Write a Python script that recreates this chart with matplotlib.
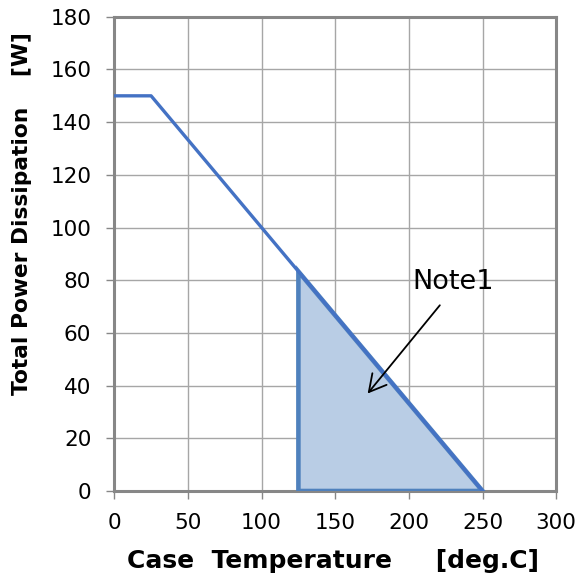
import matplotlib
matplotlib.use("Agg")
import matplotlib.pyplot as plt

# derating curve (case temperature vs total power dissipation)
temp = [0, 25, 250]
power = [150, 150, 0]

# shaded note region
region_x = [125, 125, 250, 125]
region_y = [0, 83.3, 0, 0]

xticks = [0, 50, 100, 150, 200, 250, 300]
yticks = [0, 20, 40, 60, 80, 100, 120, 140, 160, 180]

note_text = "Note1"
note_text_xy = (230, 79.5)
arrow_start = (221, 70.5)
arrow_tip = (172, 37)

plt.rcParams['font.family'] = ['DejaVu Sans']

fig = plt.figure(figsize=(5.8, 5.79), dpi=100)
ax = fig.add_axes([0.197, 0.152, 0.762, 0.819])

ax.fill(region_x, region_y, facecolor='#B9CDE5', edgecolor='#4F81BD', linewidth=3.3, zorder=3)
ax.plot(temp, power, color='#4472C4', linewidth=2.4, zorder=4)

ax.text(note_text_xy[0], note_text_xy[1], note_text, fontsize=19.5, ha='center', va='center', zorder=5)
ax.annotate('', xy=arrow_tip, xytext=arrow_start,
            arrowprops=dict(arrowstyle='->,head_length=0.55,head_width=0.3', color='black', lw=1.3,
                            mutation_scale=22, shrinkA=0, shrinkB=0), zorder=5)

ax.set_xlim(0, 300)
ax.set_ylim(0, 180)
ax.set_xticks(xticks)
ax.set_yticks(yticks)
ax.grid(True, color='#A6A6A6', linewidth=1, zorder=0)
ax.set_axisbelow(True)
for s in ax.spines.values():
    s.set_color('#878787')
    s.set_linewidth(2.2)
ax.tick_params(axis='both', which='major', labelsize=15.5, color='#878787', length=5.5, width=1, direction='out')
ax.tick_params(axis='x', pad=10)
ax.tick_params(axis='y', pad=11)

ax.set_xlabel('Case  Temperature     [deg.C]', fontsize=18, fontweight='bold', va='center')
ax.set_ylabel('Total Power Dissipation    [W]', fontsize=15.7, fontweight='bold', va='center')
ax.xaxis.set_label_coords(0.495, -0.148)
ax.yaxis.set_label_coords(-0.208, 0.584)

fig.savefig('out.png', dpi=100)
